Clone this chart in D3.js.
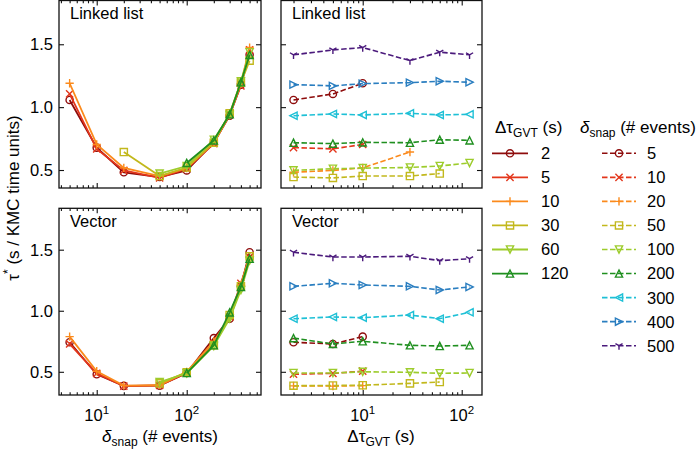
<!DOCTYPE html>
<html><head><meta charset="utf-8">
<script src="https://cdn.jsdelivr.net/npm/d3@7"></script>
<style>
body{margin:0;background:#fff}
svg{display:block}
text{font-family:"Liberation Sans",Arial,Helvetica,sans-serif;fill:#000}
</style>
</head><body>
<svg id="c" width="699" height="450"></svg>
<script>
// ---------------- data ----------------
const dtGvt = [2, 5, 10, 30, 60, 120];                     // Δτ_GVT (s)
const dSnap = [5, 10, 20, 50, 100, 200, 300, 400, 500];    // δ_snap (# events)
// rows: δ_snap ; columns: Δτ_GVT  (τ* in s / KMC time units)
const linkedList = [
  [1.057, 1.105, 1.190, null,  null,  null ],
  [0.678, 0.668, 0.703, null,  null,  null ],
  [0.482, 0.497, 0.517, 0.643, null,  null ],
  [0.444, 0.437, 0.452, 0.452, 0.472, null ],
  [0.497, 0.510, 0.515, 0.520, 0.532, 0.556],
  [0.717, 0.710, 0.720, 0.717, 0.741, 0.736],
  [0.932, 0.946, 0.938, 0.951, 0.938, 0.943],
  [1.179, 1.169, 1.187, 1.195, 1.206, 1.198],
  [1.416, 1.455, 1.474, 1.370, 1.437, 1.416]
];
const vector = [
  [0.742, 0.728, 0.788, null,  null,  null ],
  [0.480, 0.487, 0.505, null,  null,  null ],
  [0.385, 0.383, 0.387, null,  null,  null ],
  [0.386, 0.388, 0.390, 0.405, 0.416, null ],
  [0.490, 0.490, 0.500, 0.496, 0.488, 0.490],
  [0.776, 0.728, 0.750, 0.717, 0.711, 0.717],
  [0.935, 0.949, 0.943, 0.965, 0.935, 0.987],
  [1.200, 1.225, 1.211, 1.200, 1.170, 1.195],
  [1.479, 1.440, 1.440, 1.446, 1.410, 1.426]
];
const palette = ['#8e0c0c', '#e3361b', '#fb8a1c', '#c2b81c', '#9dcc2c', '#1f8f1f', '#1ec0d6', '#2a7ec0', '#4b1a7c'];
const markers = ['circle', 'x', 'plus', 'square', 'tridown', 'triup', 'trileft', 'triright', 'y'];
const yTicks = [0.5, 1.0, 1.5];
const panelTitles = ['Linked list', 'Vector'];

// ---------------- layout ----------------
const svg = d3.select('#c');
const FS = 16.5;
const rows = [{y0: 0.5, y1: 188, dom: [0.357, 1.848], data: linkedList},
              {y0: 208.3, y1: 395, dom: [0.310, 1.839], data: vector}];
const cols = [{x0: 59, x1: 261, dom: [3.81, 669]},
              {x0: 281, x1: 482, dom: [1.495, 160.3]}];

function markerPath(type, r) {
  const p = d3.path();
  switch (type) {
    case 'circle': p.moveTo(r, 0); p.arc(0, 0, r, 0, 2 * Math.PI); break;
    case 'x': p.moveTo(-r, -r); p.lineTo(r, r); p.moveTo(-r, r); p.lineTo(r, -r); break;
    case 'plus': r *= 1.15; p.moveTo(-r, 0); p.lineTo(r, 0); p.moveTo(0, -r); p.lineTo(0, r); break;
    case 'square': p.rect(-r, -r, 2 * r, 2 * r); break;
    case 'tridown': p.moveTo(0, r); p.lineTo(-r, -r); p.lineTo(r, -r); p.closePath(); break;
    case 'triup': p.moveTo(0, -r); p.lineTo(-r, r); p.lineTo(r, r); p.closePath(); break;
    case 'trileft': p.moveTo(-r, 0); p.lineTo(r, -r); p.lineTo(r, r); p.closePath(); break;
    case 'triright': p.moveTo(r, 0); p.lineTo(-r, -r); p.lineTo(-r, r); p.closePath(); break;
    case 'y': r *= 1.15; p.moveTo(0, 0); p.lineTo(0, r); p.moveTo(0, 0); p.lineTo(-0.866 * r, -0.5 * r); p.moveTo(0, 0); p.lineTo(0.866 * r, -0.5 * r); break;
  }
  return p.toString();
}

function logMinors(dom) {
  const out = [];
  for (let e = -1; e <= 4; e++) for (let m = 1; m <= 9; m++) {
    const v = m * Math.pow(10, e);
    if (v >= dom[0] && v <= dom[1] && m !== 1) out.push(v);
  }
  return out;
}
function logMajors(dom) {
  const out = [];
  for (let e = -1; e <= 4; e++) { const v = Math.pow(10, e); if (v >= dom[0] && v <= dom[1]) out.push(v); }
  return out;
}

rows.forEach((row, ri) => {
  cols.forEach((col, ci) => {
    const x = d3.scaleLog().domain(col.dom).range([col.x0, col.x1]);
    const y = d3.scaleLinear().domain(row.dom).range([row.y1, row.y0]);
    const g = svg.append('g');

    // ticks (inward, all sides)
    const maj = logMajors(col.dom), mnr = logMinors(col.dom);
    const addAxis = (axis, tr) => {
      const a = g.append('g').attr('transform', tr).call(axis);
      a.select('.domain').remove();
      a.selectAll('.tick text').remove();
      a.selectAll('.tick line').attr('stroke', '#111').attr('stroke-width', 1.1);
    };
    addAxis(d3.axisBottom(x).tickValues(maj).tickSize(-5), `translate(0,${row.y1})`);
    addAxis(d3.axisBottom(x).tickValues(mnr).tickSize(-2.8), `translate(0,${row.y1})`);
    addAxis(d3.axisTop(x).tickValues(maj).tickSize(-5), `translate(0,${row.y0})`);
    addAxis(d3.axisTop(x).tickValues(mnr).tickSize(-2.8), `translate(0,${row.y0})`);
    addAxis(d3.axisLeft(y).tickValues(yTicks).tickSize(-5), `translate(${col.x0},0)`);
    addAxis(d3.axisRight(y).tickValues(yTicks).tickSize(-5), `translate(${col.x1},0)`);

    // data
    const clipId = `clip${ri}${ci}`;
    svg.append('clipPath').attr('id', clipId).append('rect')
      .attr('x', col.x0).attr('y', row.y0).attr('width', col.x1 - col.x0).attr('height', row.y1 - row.y0);
    const dg = g.append('g').attr('clip-path', `url(#${clipId})`);
    const line = d3.line().x(d => x(d[0])).y(d => y(d[1]));
    let series;
    if (ci === 0) {
      series = dtGvt.map((t, j) => ({k: j, pts: dSnap.map((s, i) => [s, row.data[i][j]]).filter(d => d[1] != null)}));
    } else {
      series = dSnap.map((s, i) => ({k: i, pts: dtGvt.map((t, j) => [t, row.data[i][j]]).filter(d => d[1] != null)}));
    }
    series.forEach(s => {
      const c = palette[s.k];
      dg.append('path').attr('d', line(s.pts)).attr('fill', 'none').attr('stroke', c)
        .attr('stroke-width', ci === 1 ? 1.6 : 1.8).attr('stroke-dasharray', ci === 1 ? '5.5,2.5' : null);
      dg.selectAll(null).data(s.pts).enter().append('path')
        .attr('transform', d => `translate(${x(d[0])},${y(d[1])})`)
        .attr('d', markerPath(markers[s.k], 3.6)).attr('fill', 'none').attr('stroke', c).attr('stroke-width', 1.4);
    });

    // frame
    g.append('rect').attr('x', col.x0).attr('y', row.y0).attr('width', col.x1 - col.x0).attr('height', row.y1 - row.y0)
      .attr('fill', 'none').attr('stroke', '#111').attr('stroke-width', 1.3);

    // panel title
    g.append('text').attr('x', col.x0 + 11).attr('y', row.y0 + 18.5).attr('font-size', FS).text(panelTitles[ri]);

    // y tick labels
    if (ci === 0) {
      g.selectAll(null).data(yTicks).enter().append('text')
        .attr('x', col.x0 - 6).attr('y', d => y(d)).attr('dy', '0.36em').attr('text-anchor', 'end')
        .attr('font-size', FS).text(d => d.toFixed(1));
    }
    // x tick labels
    if (ri === 1) {
      maj.forEach(v => {
        const t = g.append('text').attr('x', x(v)).attr('y', 420.5).attr('text-anchor', 'middle').attr('font-size', FS);
        t.append('tspan').text('10');
        t.append('tspan').attr('dy', -7).attr('font-size', 11.5).text(Math.round(Math.log10(v)));
      });
    }
  });
});

// axis labels
const xl1 = svg.append('text').attr('x', 160).attr('y', 442).attr('text-anchor', 'middle').attr('font-size', 17);
xl1.append('tspan').attr('font-style', 'italic').text('δ');
xl1.append('tspan').attr('dy', 4).attr('font-size', 12).text('snap');
xl1.append('tspan').attr('dy', -4).text(' (# events)');

const xl2 = svg.append('text').attr('x', 381).attr('y', 442).attr('text-anchor', 'middle').attr('font-size', 17);
xl2.append('tspan').text('Δτ');
xl2.append('tspan').attr('dy', 4).attr('font-size', 12).text('GVT');
xl2.append('tspan').attr('dy', -4).text(' (s)');

const yl = svg.append('text').attr('transform', 'translate(19,198) rotate(-90)').attr('text-anchor', 'middle').attr('font-size', 17);
yl.append('tspan').text('τ');
yl.append('tspan').attr('dy', -7).attr('font-size', 12).text('*');
yl.append('tspan').attr('dy', 7).text(' (s / KMC time units)');

// legend
const leg = svg.append('g');
function legendTitle(x, parts) {
  const t = leg.append('text').attr('x', x).attr('y', 133).attr('font-size', 17);
  t.append('tspan').attr('font-style', parts[0] === 'δ' ? 'italic' : null).text(parts[0]);
  t.append('tspan').attr('dy', 4).attr('font-size', 12).text(parts[1]);
  t.append('tspan').attr('dy', -4).text(parts[2]);
}
legendTitle(495, ['Δτ', 'GVT', ' (s)']);
legendTitle(580, ['δ', 'snap', ' (# events)']);

function legendEntries(vals, lx0, lx1, tx, dashed) {
  vals.forEach((v, i) => {
    const yy = 153.3 + i * 24.05;
    const c = palette[i];
    leg.append('line').attr('x1', lx0).attr('x2', lx1).attr('y1', yy).attr('y2', yy)
      .attr('stroke', c).attr('stroke-width', dashed ? 1.6 : 1.8).attr('stroke-dasharray', dashed ? '5.5,2.5' : null);
    leg.append('path').attr('transform', `translate(${(lx0 + lx1) / 2},${yy})`)
      .attr('d', markerPath(markers[i], 3.6)).attr('fill', 'none').attr('stroke', c).attr('stroke-width', 1.4);
    leg.append('text').attr('x', tx).attr('y', yy).attr('dy', '0.36em').attr('font-size', FS).text(v);
  });
}
legendEntries(dtGvt, 492, 528, 541, false);
legendEntries(dSnap, 602, 636, 647, true);
</script>
</body></html>
